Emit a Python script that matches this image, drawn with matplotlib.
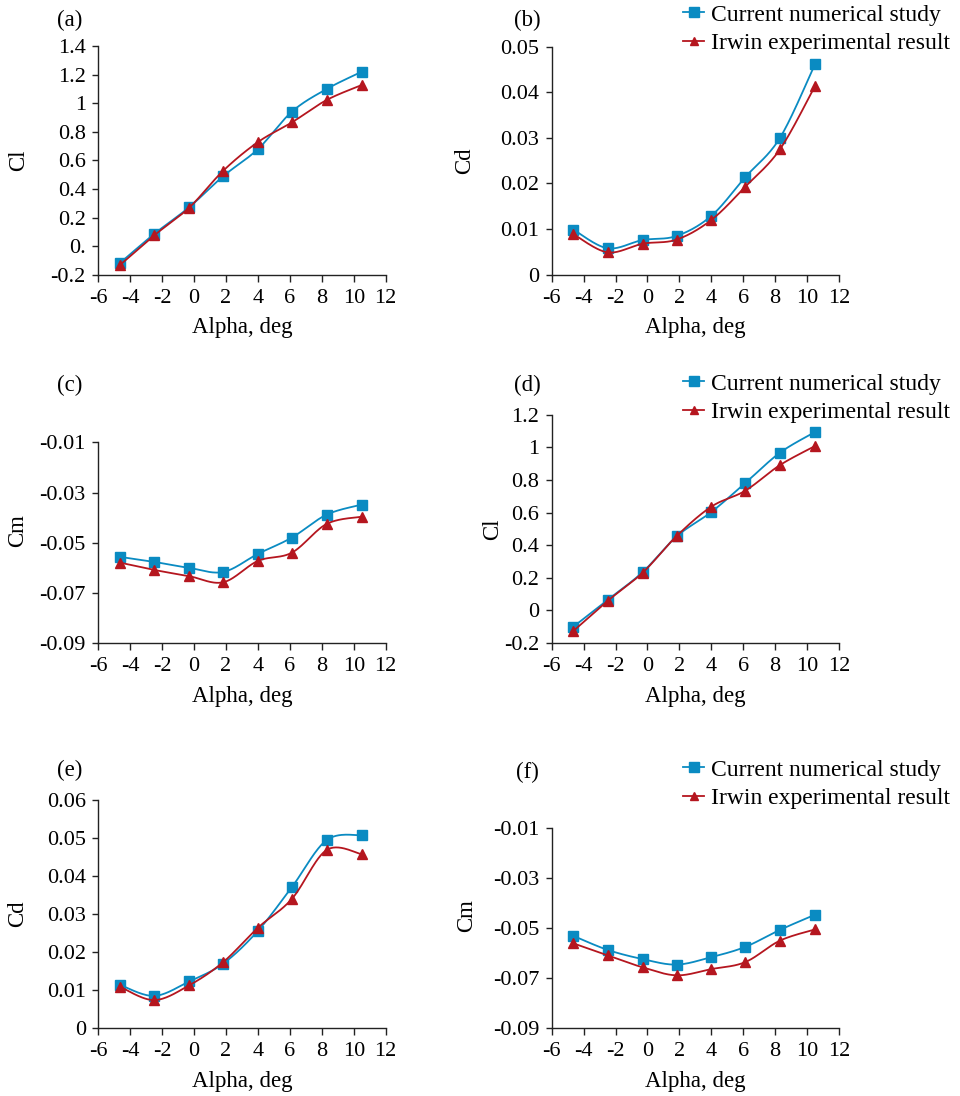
import numpy as np
import matplotlib
matplotlib.use("Agg")
import matplotlib.pyplot as plt
from matplotlib.lines import Line2D

plt.rcParams['font.family'] = ['Liberation Serif', 'DejaVu Serif']
plt.rcParams['font.size'] = 16

# angle of attack (deg)
alpha = [-4.64, -2.5, -0.3, 1.83, 4.0, 6.13, 8.3, 10.5]

# case 1
cl1_num = [-0.118, 0.085, 0.273, 0.49, 0.679, 0.941, 1.099, 1.22]
cl1_exp = [-0.132, 0.075, 0.27, 0.528, 0.728, 0.866, 1.022, 1.127]
cd1_num = [0.0099, 0.0058, 0.0076, 0.0085, 0.0129, 0.0214, 0.030, 0.0462]
cd1_exp = [0.0089, 0.0049, 0.0068, 0.0077, 0.0120, 0.0193, 0.0275, 0.0414]
cm1_num = [-0.0556, -0.0576, -0.0600, -0.0616, -0.0544, -0.0479, -0.0388, -0.0348]
cm1_exp = [-0.0579, -0.0608, -0.0633, -0.0657, -0.0572, -0.0539, -0.0425, -0.0396]

# case 2
cl2_num = [-0.100, 0.064, 0.235, 0.454, 0.603, 0.781, 0.967, 1.094]
cl2_exp = [-0.126, 0.058, 0.231, 0.456, 0.636, 0.734, 0.891, 1.008]
cd2_num = [0.0114, 0.0085, 0.0123, 0.0170, 0.0256, 0.0371, 0.0494, 0.0507]
cd2_exp = [0.0109, 0.0074, 0.0113, 0.0174, 0.0264, 0.0340, 0.0468, 0.0457]
cm2_num = [-0.0531, -0.0587, -0.0624, -0.0646, -0.0616, -0.0575, -0.0507, -0.0446]
cm2_exp = [-0.0561, -0.0609, -0.0657, -0.0689, -0.0664, -0.0636, -0.0550, -0.0505]

xticks = [-6, -4, -2, 0, 2, 4, 6, 8, 10, 12]

BLUE = '#0a8bc2'
RED = '#b5161f'
AXC = '#222222'


def smooth(x, y, n=30):
    # bezier smoothing through every point (spreadsheet style)
    x = np.asarray(x, float)
    y = np.asarray(y, float)
    px = np.concatenate([[x[0]], x, [x[-1]]])
    py = np.concatenate([[y[0]], y, [y[-1]]])
    xs, ys = [x[0]], [y[0]]
    t = np.linspace(0, 1, n)[1:]
    for i in range(1, len(px) - 2):
        p0 = np.array([px[i], py[i]])
        p3 = np.array([px[i + 1], py[i + 1]])
        p1 = p0 + (p3 - np.array([px[i - 1], py[i - 1]])) / 6
        p2 = p3 - (np.array([px[i + 2], py[i + 2]]) - p0) / 6
        for tt in t:
            b = ((1 - tt) ** 3 * p0 + 3 * (1 - tt) ** 2 * tt * p1
                 + 3 * (1 - tt) * tt ** 2 * p2 + tt ** 3 * p3)
            xs.append(b[0])
            ys.append(b[1])
    return xs, ys


def panel(rect, num, exp, ylim, yticks, ylabels, ylab, ylab_pos):
    ax = fig.add_axes([rect[0] / W, 1 - rect[3] / H,
                       (rect[1] - rect[0]) / W, (rect[3] - rect[2]) / H])
    sx, sy = smooth(alpha, num)
    ax.plot(sx, sy, color=BLUE, lw=1.3)
    ax.plot(alpha, num, ls='none', marker='s', ms=7.5, color=BLUE)
    sx, sy = smooth(alpha, exp)
    ax.plot(sx, sy, color=RED, lw=1.3)
    ax.plot(alpha, exp, ls='none', marker='^', ms=7, color=RED)
    ax.set_xlim(-6, 12)
    ax.set_ylim(*ylim)
    ax.set_xticks(xticks)
    ax.set_xticklabels([str(v) for v in xticks])
    ax.set_yticks(yticks)
    ax.set_yticklabels(ylabels)
    ax.spines['top'].set_visible(False)
    ax.spines['right'].set_visible(False)
    for s in ('left', 'bottom'):
        ax.spines[s].set_color(AXC)
        ax.spines[s].set_linewidth(1.0)
    ax.tick_params(axis='x', direction='out', length=5, width=1.0, color=AXC,
                   labelsize=16, pad=5)
    ax.tick_params(axis='y', direction='out', length=4, width=1.0, color=AXC,
                   labelsize=16, pad=5)
    ax.set_xlabel('Alpha, deg', fontsize=16.5, labelpad=7)
    ax.set_ylabel(ylab, fontsize=16.5)
    ax.yaxis.set_label_coords(*ylab_pos)
    return ax


W, H = 960, 1096
fig = plt.figure(figsize=(W / 100, H / 100), dpi=100)

cl_ticks = [-0.2, 0, 0.2, 0.4, 0.6, 0.8, 1.0, 1.2, 1.4]
cl_labels_a = ['-0.2', '0.', '0.2', '0.4', '0.6', '0.8', '1', '1.2', '1.4']
cl_labels_d = ['-0.2', '0', '0.2', '0.4', '0.6', '0.8', '1', '1.2']
cd_ticks_b = [0, 0.01, 0.02, 0.03, 0.04, 0.05]
cd_labels_b = ['0', '0.01', '0.02', '0.03', '0.04', '0.05']
cd_ticks_e = [0, 0.01, 0.02, 0.03, 0.04, 0.05, 0.06]
cd_labels_e = ['0', '0.01', '0.02', '0.03', '0.04', '0.05', '0.06']
cm_ticks = [-0.09, -0.07, -0.05, -0.03, -0.01]
cm_labels = ['-0.09', '-0.07', '-0.05', '-0.03', '-0.01']

# rect = (left, right, top, bottom) in pixels
panel((98.3, 385.7, 46, 274.7), cl1_num, cl1_exp, (-0.2, 1.4),
      cl_ticks, cl_labels_a, 'Cl', (-0.241, 0.5))
axb = panel((551.7, 839, 46.7, 274.7), cd1_num, cd1_exp, (0, 0.05),
            cd_ticks_b, cd_labels_b, 'Cd', (-0.267, 0.5))
panel((98.3, 385.7, 442.3, 643.3), cm1_num, cm1_exp, (-0.09, -0.01),
      cm_ticks, cm_labels, 'Cm', (-0.244, 0.56))
axd = panel((551.7, 839, 414.7, 643), cl2_num, cl2_exp, (-0.2, 1.2),
            cl_ticks[:-1], cl_labels_d, 'Cl', (-0.17, 0.5))
panel((98.3, 385.7, 799.7, 1028.3), cd2_num, cd2_exp, (0, 0.06),
      cd_ticks_e, cd_labels_e, 'Cd', (-0.244, 0.5))
axf = panel((551.7, 839, 828.3, 1028), cm2_num, cm2_exp, (-0.09, -0.01),
            cm_ticks, cm_labels, 'Cm', (-0.26, 0.565))

# panel letters
for lab, x, y in [('(a)', 70, 20), ('(b)', 527, 20), ('(c)', 70, 385),
                  ('(d)', 527, 385), ('(e)', 70, 770), ('(f)', 527, 772)]:
    fig.text(x / W, 1 - y / H, lab, fontsize=16.5, ha='center', va='center')

# legends on the right-hand panels
handles = [Line2D([], [], color=BLUE, lw=1.3, marker='s', ms=6.5),
           Line2D([], [], color=RED, lw=1.3, marker='^', ms=6)]
names = ['Current numerical study', 'Irwin experimental result']
for ax, ytop in [(axb, 4), (axd, 373), (axf, 759)]:
    ax.legend(handles, names, loc='upper left',
              bbox_to_anchor=(683 / W, 1 - ytop / H),
              bbox_transform=fig.transFigure, frameon=False, fontsize=17,
              borderpad=0, borderaxespad=0, handlelength=0.9,
              handletextpad=0.3, labelspacing=0.3)

fig.savefig('out.png', dpi=100)
